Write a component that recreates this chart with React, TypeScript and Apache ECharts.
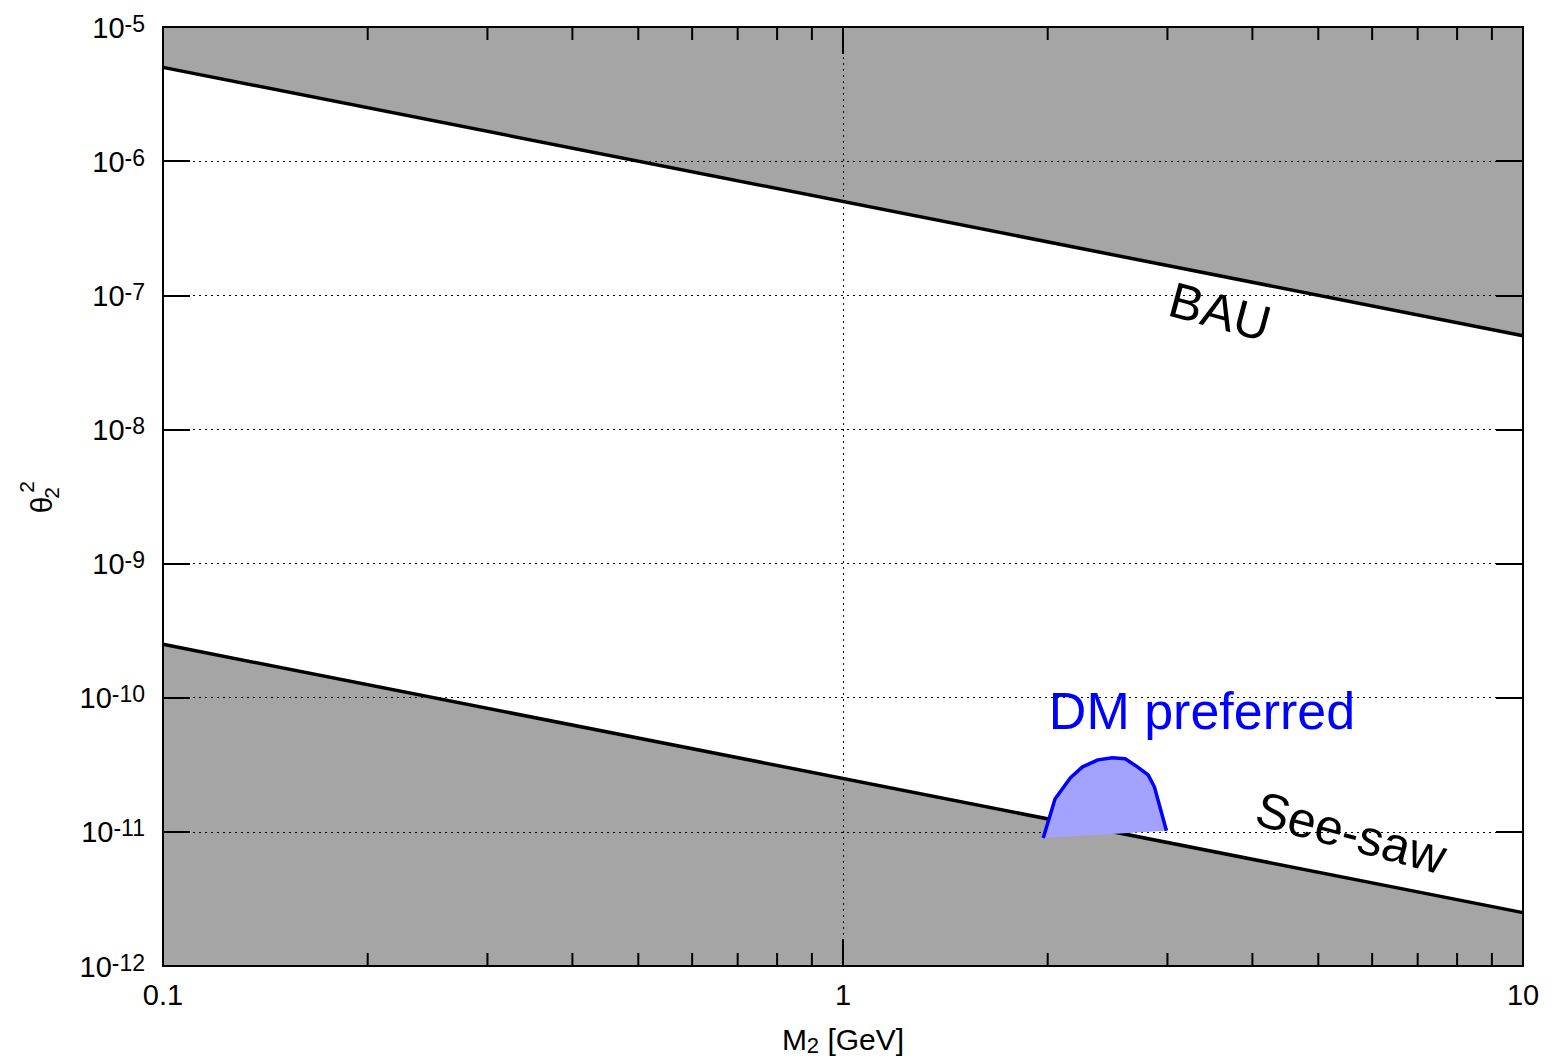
import React, { useEffect, useRef } from 'react';
import * as echarts from 'echarts';

// ---- data ----
const xRange = [0.1, 10];
const yRange = [1e-12, 1e-5];
const xTickLabels = ['0.1', '1', '10'];
const yTickExponents = ['-12', '-11', '-10', '-9', '-8', '-7', '-6', '-5'];
const xMinorTicks = [0.2, 0.3, 0.4, 0.5, 0.6, 0.7, 0.8, 0.9, 2, 3, 4, 5, 6, 7, 8, 9];

const bauM = [0.1, 10];
const bauTheta = [5e-6, 5e-8];
const seesawM = [0.1, 10];
const seesawTheta = [2.5e-10, 2.5e-12];

const dmM = [1.97, 2.05, 2.16, 2.25, 2.37, 2.49, 2.6, 2.71, 2.81, 2.87, 2.99];
const dmTheta = [9.0e-12, 1.76e-11, 2.53e-11, 3.05e-11, 3.44e-11, 3.57e-11, 3.51e-11, 3.05e-11, 2.66e-11, 2.17e-11, 1.02e-11];

const FONT = 'Liberation Sans, Arial, Helvetica, sans-serif';
const GRAY = '#a5a5a5';

function regionSeries(name: string, ms: number[], ts: number[], bound: number) {
  return {
    type: 'custom',
    name,
    z: -1,
    silent: true,
    data: [[ms[0], ts[0]]],
    renderItem: (_p: any, api: any) => {
      const pts: number[][] = ms.map((m, i) => api.coord([m, ts[i]]));
      for (let i = ms.length - 1; i >= 0; i--) pts.push(api.coord([ms[i], bound]));
      return { type: 'polygon', shape: { points: pts }, style: { fill: GRAY } };
    },
  };
}

export default function App() {
  const ref = useRef<HTMLDivElement>(null);
  useEffect(() => {
    if (!ref.current) return;
    const chart = echarts.init(ref.current, undefined, { renderer: 'svg' });
    const axisCommon = {
      type: 'log',
      logBase: 10,
      axisLine: { onZero: false, lineStyle: { color: '#000', width: 2 } },
      axisTick: { inside: true, length: 27, lineStyle: { color: '#000', width: 2 } },
    };
    const option: any = {
      animation: false,
      backgroundColor: '#fff',
      grid: { left: 163, right: 32, top: 27, bottom: 95, containLabel: false },
      xAxis: [
        {
          ...axisCommon,
          position: 'bottom',
          min: xRange[0],
          max: xRange[1],
          axisLabel: {
            formatter: (_v: number, i: number) => xTickLabels[i],
            fontSize: 29,
            color: '#000',
            fontFamily: FONT,
            margin: 14,
          },
          splitLine: { show: true, lineStyle: { type: [2, 4], color: '#000', width: 1 } },
        },
        {
          ...axisCommon,
          position: 'top',
          min: xRange[0],
          max: xRange[1],
          axisLabel: { show: false },
          splitLine: { show: false },
        },
      ],
      yAxis: [
        {
          ...axisCommon,
          position: 'left',
          min: yRange[0],
          max: yRange[1],
          axisLabel: {
            formatter: (_v: number, i: number) => `{b|10}{s|${yTickExponents[i]}}`,
            color: '#000',
            margin: 18,
            rich: {
              b: { fontSize: 29, fontFamily: FONT, color: '#000', verticalAlign: 'bottom', lineHeight: 30, padding: [8, 0, 0, 0] },
              s: { fontSize: 23, fontFamily: FONT, color: '#000', verticalAlign: 'top', lineHeight: 24 },
            },
          },
          splitLine: { show: true, lineStyle: { type: [2, 4], color: '#000', width: 1 } },
        },
        {
          ...axisCommon,
          position: 'right',
          min: yRange[0],
          max: yRange[1],
          axisLabel: { show: false },
          splitLine: { show: false },
        },
      ],
      series: [
        regionSeries('BAU excluded', bauM, bauTheta, yRange[1]),
        regionSeries('See-saw excluded', seesawM, seesawTheta, yRange[0]),
        {
          type: 'line',
          name: 'BAU',
          data: bauM.map((m, i) => [m, bauTheta[i]]),
          showSymbol: false,
          silent: true,
          lineStyle: { color: '#000', width: 3.5 },
          z: 3,
        },
        {
          type: 'line',
          name: 'See-saw',
          data: seesawM.map((m, i) => [m, seesawTheta[i]]),
          showSymbol: false,
          silent: true,
          lineStyle: { color: '#000', width: 3.5 },
          z: 3,
        },
        {
          type: 'custom',
          name: 'DM preferred',
          z: 4,
          silent: true,
          data: [[dmM[0], dmTheta[0]]],
          renderItem: (_p: any, api: any) => {
            const pts = dmM.map((m, i) => api.coord([m, dmTheta[i]]));
            return {
              type: 'group',
              children: [
                { type: 'polygon', shape: { points: pts }, style: { fill: '#a3a3ff' } },
                { type: 'polyline', shape: { points: pts }, style: { stroke: '#0000ff', lineWidth: 3.5, fill: null, lineJoin: 'round' } },
              ],
            };
          },
        },
        {
          type: 'custom',
          name: 'minor ticks',
          z: 5,
          silent: true,
          data: xMinorTicks.map((v) => [v, yRange[0]]),
          renderItem: (_p: any, api: any) => {
            const v = api.value(0);
            const b = api.coord([v, yRange[0]]);
            const t = api.coord([v, yRange[1]]);
            return {
              type: 'group',
              children: [
                { type: 'line', shape: { x1: b[0], y1: b[1], x2: b[0], y2: b[1] - 13 }, style: { stroke: '#000', lineWidth: 2 } },
                { type: 'line', shape: { x1: t[0], y1: t[1], x2: t[0], y2: t[1] + 13 }, style: { stroke: '#000', lineWidth: 2 } },
              ],
            };
          },
        },
      ],
      graphic: [
        {
          type: 'text', x: 1220, y: 312, rotation: (-15 * Math.PI) / 180, z: 10,
          style: { text: 'BAU', fontSize: 50, fontFamily: FONT, fill: '#000', align: 'center', verticalAlign: 'middle' },
        },
        {
          type: 'text', x: 1351, y: 833, rotation: (-15 * Math.PI) / 180, z: 10,
          style: { text: 'See-saw', fontSize: 50, fontFamily: FONT, fill: '#000', align: 'center', verticalAlign: 'middle' },
        },
        {
          type: 'text', x: 1202, y: 711, z: 10,
          style: { text: 'DM preferred', fontSize: 52, fontFamily: FONT, fill: '#0000ff', align: 'center', verticalAlign: 'middle' },
        },
        {
          type: 'text', x: 843, y: 1040, z: 10,
          style: {
            text: '{m|M}{s|2}{m| [GeV]}',
            align: 'center',
            verticalAlign: 'middle',
            fill: '#000',
            rich: {
              m: { fontSize: 30, fontFamily: FONT, fill: '#000', verticalAlign: 'top', lineHeight: 32 },
              s: { fontSize: 22, fontFamily: FONT, fill: '#000', verticalAlign: 'bottom', lineHeight: 22, padding: [18, 0, 0, 0] },
            },
          },
        },
        {
          type: 'group', x: 41, y: 496, rotation: Math.PI / 2, z: 10,
          children: [
            { type: 'text', x: -9, y: 0.5, style: { text: 'θ', fontSize: 30, fontFamily: FONT, fill: '#000', align: 'center', verticalAlign: 'middle' } },
            { type: 'text', x: 3, y: 10.5, style: { text: '2', fontSize: 21, fontFamily: FONT, fill: '#000', align: 'center', verticalAlign: 'middle' } },
            { type: 'text', x: 9, y: -15, style: { text: '2', fontSize: 21, fontFamily: FONT, fill: '#000', align: 'center', verticalAlign: 'middle' } },
          ],
        },
      ],
    };
    chart.setOption(option);
    return () => chart.dispose();
  }, []);
  return <div ref={ref} style={{ position: 'fixed', left: 0, top: 0, width: 1555, height: 1061 }} />;
}
